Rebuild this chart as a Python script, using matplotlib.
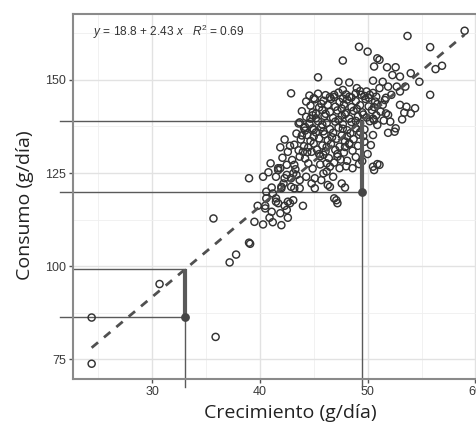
import numpy as np
import matplotlib
matplotlib.use("Agg")
import matplotlib.pyplot as plt
from matplotlib.ticker import MultipleLocator

plt.rcParams['font.family'] = ['Liberation Sans', 'DejaVu Sans']
plt.rcParams['mathtext.fontset'] = 'custom'
plt.rcParams['mathtext.rm'] = 'Liberation Sans'
plt.rcParams['mathtext.it'] = 'Liberation Sans:italic'

pts_low = [(24.4, 86.2), (24.4, 73.8), (30.7, 95.2), (35.9, 81.0), (35.7, 112.8),
           (37.2, 101.0), (37.8, 103.1), (39.0, 106.3), (39.1, 106.0), (39.0, 123.6),
           (39.5, 111.9), (39.8, 116.2)]

pts_mid = [(40.3, 124.0), (40.3, 111.2), (40.5, 116.2), (40.6, 120.0), (40.6, 118.2),
           (40.5, 115.5), (40.9, 113.0), (41.1, 121.1), (41.1, 114.6), (41.2, 111.8),
           (41.2, 119.5), (41.5, 124.0), (41.5, 118.2), (41.5, 117.3), (41.7, 125.8),
           (41.7, 116.9), (41.7, 126.3), (41.9, 114.2), (41.9, 126.3), (42.0, 121.3),
           (42.0, 111.0), (42.0, 120.9), (42.2, 122.2), (42.3, 123.6), (42.3, 116.2),
           (42.5, 127.2), (42.5, 124.5), (42.5, 115.1), (42.6, 117.3), (42.6, 113.0),
           (42.8, 116.9), (42.9, 121.3), (42.9, 123.6), (43.1, 117.7), (43.1, 124.9),
           (43.2, 127.2), (43.2, 120.9), (43.4, 124.5), (43.7, 120.9), (43.7, 123.1),
           (43.7, 129.4), (44.0, 116.2), (44.3, 124.0), (44.5, 127.6), (44.8, 122.2),
           (45.1, 120.9), (45.1, 123.6), (45.7, 123.1), (45.9, 124.9), (46.2, 125.4),
           (46.2, 127.6), (46.3, 121.8), (46.5, 121.3), (46.5, 126.7), (46.8, 124.0),
           (46.9, 118.2), (47.1, 117.7), (47.2, 116.9), (47.4, 126.3), (47.6, 122.2),
           (47.9, 121.1), (48.1, 128.3), (48.6, 126.3), (50.5, 126.7), (50.6, 125.8),
           (50.9, 127.4), (51.1, 127.2), (50.0, 130.1), (47.2, 129.4), (45.5, 130.1),
           (44.8, 130.7), (44.0, 130.7), (42.6, 130.7)]

pts_left = [(42.3, 134.0), (42.9, 146.4), (44.2, 137.4), (45.4, 150.7), (43.6, 138.3),
            (44.7, 139.6), (44.9, 137.0), (45.2, 141.0), (43.9, 135.1)]

pts_core = [(44.6, 145.8), (45.4, 146.3), (46.1, 145.9), (47.3, 146.6), (48.0, 146.1),
            (48.9, 146.4), (49.7, 145.7), (50.5, 146.5),
            (44.3, 144.2), (45.1, 144.8), (45.9, 144.4), (46.6, 144.9), (47.4, 144.1),
            (48.1, 144.7), (48.9, 144.3), (49.8, 144.9), (50.7, 144.2), (51.6, 144.6),
            (44.7, 143.1), (45.5, 142.6), (46.3, 143.3), (47.0, 142.8), (47.8, 143.4),
            (48.5, 142.7), (49.3, 143.2), (50.1, 142.9), (50.9, 143.5),
            (43.9, 141.6), (44.9, 141.3), (45.8, 141.9), (46.5, 141.4), (47.2, 141.8),
            (48.0, 141.2), (48.7, 141.7), (49.5, 141.3), (50.4, 141.9), (51.2, 141.5),
            (44.3, 140.1), (45.2, 139.7), (46.0, 140.3), (46.8, 139.8), (47.6, 140.4),
            (48.3, 139.6), (49.1, 140.2), (49.9, 139.9), (50.8, 140.5),
            (43.7, 138.6), (44.6, 138.2), (45.4, 138.9), (46.2, 138.4), (47.0, 138.8),
            (47.7, 138.1), (48.5, 138.7), (49.3, 138.3), (50.2, 138.9),
            (44.1, 137.1), (45.0, 136.6), (45.7, 137.3), (46.5, 136.8), (47.3, 137.2),
            (48.1, 136.5), (48.9, 137.0), (49.7, 136.7),
            (43.4, 135.6), (44.4, 135.2), (45.2, 135.9), (46.0, 135.4), (46.8, 135.8),
            (47.6, 135.1), (48.4, 135.7), (49.2, 135.3),
            (43.8, 134.0), (44.7, 133.6), (45.5, 134.3), (46.3, 133.8), (47.1, 134.2),
            (47.9, 133.5), (48.7, 134.1),
            (43.2, 132.6), (44.1, 132.2), (45.0, 132.9), (45.8, 132.4), (46.6, 132.8),
            (47.4, 132.1), (48.3, 132.7), (49.1, 132.3),
            (43.6, 131.1), (44.4, 130.6), (45.3, 131.3), (46.1, 130.8), (47.0, 131.2),
            (47.8, 130.5), (48.6, 131.0),
            (45.6, 129.5), (46.4, 129.0), (47.5, 128.6), (48.9, 129.3), (49.5, 128.2)]

pts_fill = [(45.0, 145.1), (46.9, 146.0), (48.5, 145.3), (50.1, 145.2), (49.3, 147.0),
            (47.7, 145.0), (45.7, 143.6), (47.6, 142.3), (49.0, 142.2), (50.6, 142.7),
            (46.1, 140.9), (47.9, 140.8), (49.6, 140.7), (44.9, 140.5), (45.8, 138.0),
            (47.3, 139.3), (48.9, 139.0), (50.5, 139.6), (44.2, 136.4), (45.9, 136.2),
            (47.7, 136.9), (49.3, 136.0), (45.0, 134.8), (46.7, 134.6), (48.1, 134.9),
            (49.6, 134.9), (44.5, 131.9), (46.2, 132.0), (47.9, 132.0), (45.9, 129.9),
            (47.2, 130.1), (43.0, 128.5), (44.2, 128.9), (42.1, 129.1), (41.0, 127.6),
            (40.8, 125.2), (43.3, 126.0), (44.9, 126.2), (45.6, 127.3), (46.9, 127.8),
            (48.0, 126.8), (49.2, 127.4), (42.8, 132.3), (41.9, 131.9), (52.1, 138.8),
            (53.2, 139.4), (51.5, 139.1)]

pts_high = [(59.0, 163.2), (53.7, 161.8), (55.8, 158.8), (49.2, 158.9), (50.0, 157.6),
            (47.7, 155.2), (50.9, 155.8), (51.1, 155.4), (50.6, 153.6), (51.8, 153.4),
            (52.6, 153.4), (50.5, 149.8), (52.3, 151.3), (53.0, 150.9), (56.3, 152.9),
            (56.9, 153.8), (55.8, 146.0), (54.8, 149.5), (54.0, 151.8), (47.3, 149.5),
            (48.3, 149.3), (47.7, 147.3), (49.0, 147.8), (51.4, 149.5), (51.1, 147.8),
            (51.9, 148.2), (52.7, 148.2), (53.0, 146.9), (53.5, 148.2), (49.9, 146.9),
            (50.2, 146.0), (49.4, 146.0), (46.5, 145.4), (46.9, 145.4), (48.3, 145.5),
            (50.8, 145.5), (52.2, 146.0), (51.7, 145.2), (53.0, 143.3), (53.6, 142.8),
            (54.4, 142.4), (53.4, 141.2), (54.0, 141.0), (51.9, 140.6), (51.4, 143.3),
            (52.5, 136.1), (51.9, 135.8), (52.6, 137.0), (50.9, 137.9), (50.6, 139.2),
            (49.7, 133.4), (50.3, 132.5), (50.5, 135.2), (51.7, 141.0), (48.3, 133.0)]

# regression and the two worked examples
b0, b1 = 18.8, 2.43
r2 = 0.69
fit_x = [24.4, 59.0]
ex_x = [33.1, 49.5]
ex_obs = [86.3, 119.8]

xlim = (22.7, 61.0)
ylim = (69.7, 167.7)

obs = np.array(pts_low + pts_mid + pts_left + pts_core + pts_fill + pts_high)

fig = plt.figure(figsize=(4.77, 4.28), dpi=100)
ax = fig.add_axes([0.1537, 0.1145, 0.8656, 0.8528])
ax.set_xlim(*xlim)
ax.set_ylim(*ylim)

ax.xaxis.set_major_locator(MultipleLocator(10))
ax.xaxis.set_minor_locator(MultipleLocator(5))
ax.yaxis.set_major_locator(MultipleLocator(25))
ax.yaxis.set_minor_locator(MultipleLocator(12.5))
ax.grid(which='major', color='#e2e2e2', lw=1.0)
ax.grid(which='minor', color='#efefef', lw=0.6)
ax.set_axisbelow(True)
for s in ax.spines.values():
    s.set_color('#8a8a8a')
    s.set_linewidth(1.5)
ax.tick_params(which='major', length=3, width=1, color='#555555',
               labelcolor='#3a3a3a', labelsize=9, pad=2)
ax.tick_params(which='minor', length=0)

ax.scatter(obs[:, 0], obs[:, 1], s=26, facecolors='none',
           edgecolors='#333333', linewidths=1.05, zorder=3)

fx = np.array(fit_x)
ax.plot(fx, b0 + b1 * fx, color='#505050', lw=2.0, dashes=(3, 2.8), zorder=4)

lc = '#5a5a5a'
for xe, yo in zip(ex_x, ex_obs):
    yp = b0 + b1 * xe
    x_start = 21.5 if xe > 40 else xlim[0]
    ax.plot([x_start, xe], [yp, yp], color=lc, lw=1.0, clip_on=False, zorder=2)
    ax.plot([21.5, xe], [yo, yo], color=lc, lw=1.0, clip_on=False, zorder=2)
    ax.plot([xe, xe], [67.6, yp], color=lc, lw=1.0, clip_on=False, zorder=2)
    ax.plot([xe, xe], [yo, yp], color=lc, lw=3.0, zorder=5, solid_capstyle='butt')
    ax.scatter([xe], [yo], s=28, color='#444444', zorder=6)

ax.text(24.5, 162.9,
        r'$\mathit{y}$ = 18.8 + 2.43 $\mathit{x}$   $\mathit{R}^2$ = %.2f' % r2,
        fontsize=8.6, color='#333333', va='center', ha='left')

fig.text(0.608, 0.035, 'Crecimiento (g/día)', fontsize=14, color='#222222',
         family=['Open Sans', 'DejaVu Sans'], ha='center', va='center')
fig.text(0.052, 0.52, 'Consumo (g/día)', fontsize=14, color='#222222',
         family=['Open Sans', 'DejaVu Sans'], ha='center', va='center', rotation=90)

fig.savefig('out.png', dpi=100)
